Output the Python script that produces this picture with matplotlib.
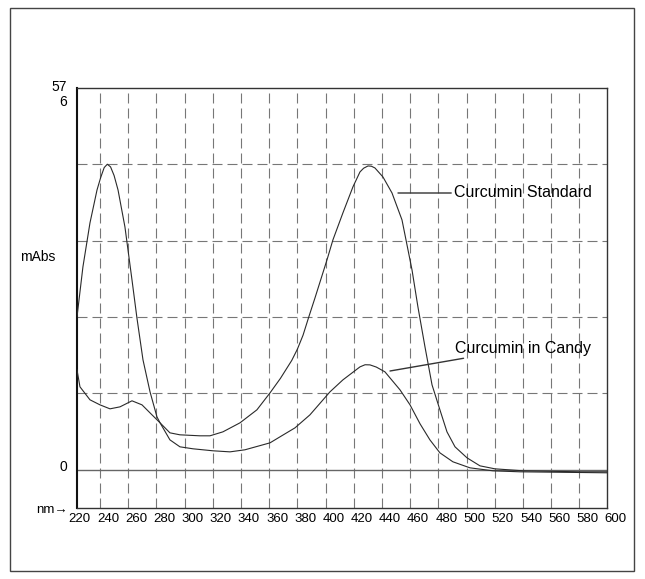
import matplotlib
matplotlib.use("Agg")
import matplotlib.pyplot as plt
import matplotlib.transforms as mtransforms
from matplotlib.patches import Rectangle

plt.rcParams['font.family'] = ['Liberation Sans', 'DejaVu Sans']

# wavelength (nm) / absorbance (mAbs)
std_nm = [223.7, 225.8, 232.9, 240.0, 247.1, 254.2, 262.7, 269.8, 276.9, 282.6,
          289.6, 296.7, 310.9, 318.0, 327.2, 339.3, 351.3, 360.6, 368.0, 376.0,
          380.0, 384.0, 388.0, 392.5, 401.0, 405.2, 412.3, 419.4, 424.4, 427.0,
          430.1, 432.5, 435.0, 440.7, 447.1, 454.2, 461.3, 465.5, 470.5, 475.5,
          481.1, 486.1, 491.8, 500.3, 509.5, 520.1, 540.0, 580.4, 599.6]
std_mabs = [150.8, 125.2, 105.6, 98.0, 92.0, 95.0, 104.1, 98.0, 82.9, 70.9,
            55.8, 52.8, 51.3, 51.3, 57.3, 70.9, 90.5, 116.1, 138.0, 165.0,
            182.0, 203.0, 230.0, 259.4, 316.7, 346.8, 387.6, 426.8, 449.4, 455.0,
            458.4, 458.0, 455.4, 441.8, 417.7, 377.0, 301.6, 245.8, 185.5, 128.2,
            90.5, 57.3, 34.7, 18.1, 6.0, 1.5, -1.5, -3.0, -3.0]

candy_nm = [223.7, 227.9, 232.9, 237.9, 240.5, 243.0, 245.2, 247.5, 250.0, 252.8,
            257.7, 262.7, 266.2, 270.5, 275.5, 280.4, 282.6, 289.6, 296.7, 306.0,
            320.1, 332.2, 342.8, 360.6, 367.7, 378.3, 388.9, 403.1, 412.3, 424.4,
            428.0, 431.5, 436.0, 442.1, 452.8, 459.9, 467.0, 474.0, 481.1, 490.3,
            502.4, 518.7, 537.9, 599.6]
candy_mabs = [230.7, 306.1, 372.5, 422.2, 441.0, 456.0, 461.0, 457.0, 444.0, 422.2,
              366.4, 286.5, 229.2, 165.9, 117.6, 79.9, 70.9, 45.2, 34.7, 31.7,
              28.7, 27.1, 30.2, 40.7, 49.8, 63.3, 82.9, 117.6, 135.7, 155.3,
              158.5, 158.3, 155.0, 147.8, 120.6, 98.0, 69.4, 45.2, 25.6, 12.1,
              3.0, -1.5, -3.0, -4.5]

x_grid = list(range(240, 600, 20))
y_grid = [115.2, 230.4, 345.6, 460.8]
x_labels = list(range(220, 620, 20))

W, H = 645, 579


def fx(px):
    return px / W


def fy(py):
    return 1 - py / H


fig = plt.figure(figsize=(6.45, 5.79), dpi=100)
fig.patches.append(Rectangle((fx(10), fy(571)), fx(634) - fx(10), fy(8) - fy(571),
                             transform=fig.transFigure, fill=False,
                             edgecolor='#444444', linewidth=1.0))

ax = fig.add_axes([fx(77), fy(508), fx(607) - fx(77), fy(88) - fy(508)])
ax.set_xlim(223.7, 599.6)
ax.set_ylim(-57.6, 576)

dash = (0, (9, 4.5))
for xv in x_grid:
    ax.axvline(xv, color='#777777', lw=0.8, linestyle=dash, zorder=1)
for yv in y_grid:
    ax.axhline(yv, color='#777777', lw=0.8, linestyle=dash, zorder=1)
ax.axhline(0, color='#666666', lw=1.0, zorder=1)

ax.plot(std_nm, std_mabs, color='#2a2a2a', lw=0.8, zorder=3)
ax.plot(candy_nm, candy_mabs, color='#2a2a2a', lw=0.8, zorder=3)

ax.set_xticks([])
ax.set_yticks([])
for side in ['top', 'right', 'bottom']:
    ax.spines[side].set_linewidth(1.0)
    ax.spines[side].set_color('#333333')
ax.spines['left'].set_linewidth(1.5)
ax.spines['left'].set_color('#111111')

# x labels sit a little to the right of their grid lines, as on the scan
trans = mtransforms.blended_transform_factory(ax.transData, ax.transAxes)
for v in x_labels:
    ax.text(v + 5.7, -0.026, str(v), transform=trans, ha='center', va='center',
            fontsize=9.5, clip_on=False)

fig.text(fx(68), fy(510), 'nm\u2192', ha='right', va='center', fontsize=9.5)
fig.text(fx(67), fy(87), '57', ha='right', va='center', fontsize=10)
fig.text(fx(67), fy(102), '6', ha='right', va='center', fontsize=10)
fig.text(fx(67), fy(467), '0', ha='right', va='center', fontsize=10)
fig.text(fx(20), fy(257), 'mAbs', ha='left', va='center', fontsize=10)

# curve labels
ax.annotate('Curcumin Standard', xy=(fx(398), fy(193)), xycoords='figure fraction',
            xytext=(fx(454), fy(193)), textcoords='figure fraction',
            ha='left', va='center', fontsize=11.5,
            arrowprops=dict(arrowstyle='-', color='#333333', lw=1.0,
                            shrinkA=0, shrinkB=0))
ax.annotate('Curcumin in Candy', xy=(fx(390), fy(371)), xycoords='figure fraction',
            xytext=(fx(455), fy(348)), textcoords='figure fraction',
            ha='left', va='center', fontsize=11.5,
            arrowprops=dict(arrowstyle='-', color='#333333', lw=1.0,
                            shrinkA=0, shrinkB=0))

fig.savefig('out.png', dpi=100)
